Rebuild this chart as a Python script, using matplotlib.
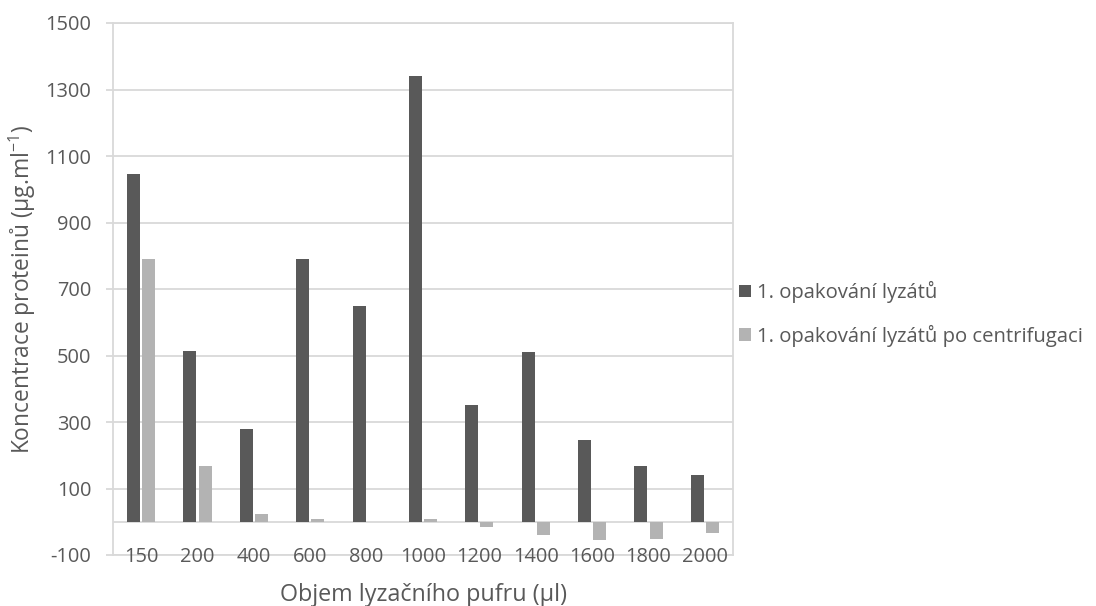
import numpy as np
import matplotlib.pyplot as plt

plt.rcParams['font.family'] = ['Open Sans', 'DejaVu Sans']
plt.rcParams['mathtext.fontset'] = 'custom'
plt.rcParams['mathtext.rm'] = 'Open Sans'
plt.rcParams['mathtext.it'] = 'Open Sans'

objem = ['150', '200', '400', '600', '800', '1000', '1200', '1400', '1600', '1800', '2000']
lyzaty = [1045, 515, 278, 790, 648, 1340, 350, 512, 245, 168, 142]
po_centrifugaci = [790, 168, 23, 8, -2, 8, -15, -39, -56, -52, -33]

ylab = 'Koncentrace proteinů (µg.ml$^{-1}$)'
xlab = 'Objem lyzačního pufru (µl)'

txt = '#595959'
grid = '#d9d9d9'
W, H = 1096, 606

fig = plt.figure(figsize=(W / 100, H / 100), dpi=100)
r = fig.canvas.get_renderer()


def fit(s, px):
    # font size so that the text is px pixels wide
    t = fig.text(0, 0, s, fontsize=10)
    w = t.get_window_extent(r).width
    t.remove()
    return 10 * px / w


fs_tick = fit('1000', 46)
fs_xlab = fit(xlab, 287)
fs_ylab = fit(ylab, 330)
fs_leg = fit('1. opakování lyzátů po centrifugaci', 327)

ax = fig.add_axes([113 / W, 51 / H, 620 / W, 532 / H])

x = np.arange(len(objem))
w = 0.23
ax.bar(x - 0.135, lyzaty, w, color='#595959', label='1. opakování lyzátů', zorder=3)
ax.bar(x + 0.135, po_centrifugaci, w, color='#b3b3b3', label='1. opakování lyzátů po centrifugaci', zorder=3)

ax.set_xlim(-0.5, len(objem) - 0.5)
ax.set_ylim(-100, 1500)
yt = np.arange(-100, 1501, 200)
ax.set_yticks(yt)
ax.set_yticklabels([str(v) for v in yt])
ax.grid(axis='y', color=grid, linewidth=1.3, zorder=0)
ax.axhline(0, color=grid, linewidth=1.3, zorder=2)
for s in ax.spines.values():
    s.set_color(grid)
    s.set_linewidth(1.3)
ax.tick_params(axis='y', colors=grid, labelcolor=txt, labelsize=fs_tick, length=5, width=1.3, pad=10.5)
ax.set_xticks([])
for i, lab in enumerate(objem):
    ax.text(i, -7 / 532, lab, ha='center', va='baseline', fontsize=fs_tick, color=txt,
            transform=ax.get_xaxis_transform(), zorder=4)

fig.text(22 / W, 1 - 290 / H, ylab, rotation=90, ha='center', va='center',
         fontsize=fs_ylab, color=txt)
fig.text(423.5 / W, 1 - 601 / H, xlab, ha='center', va='baseline',
         fontsize=fs_xlab, color=txt)

em = fs_leg * 100 / 72
fig.legend(loc='center left', bbox_to_anchor=(739 / W, 1 - 314 / H), frameon=False,
           fontsize=fs_leg, labelcolor=txt, borderpad=0, borderaxespad=0,
           handlelength=12 / em, handleheight=12 / em, handletextpad=6 / em,
           labelspacing=(48 - 1.3 * em) / em)

fig.savefig('out.png', dpi=100)
